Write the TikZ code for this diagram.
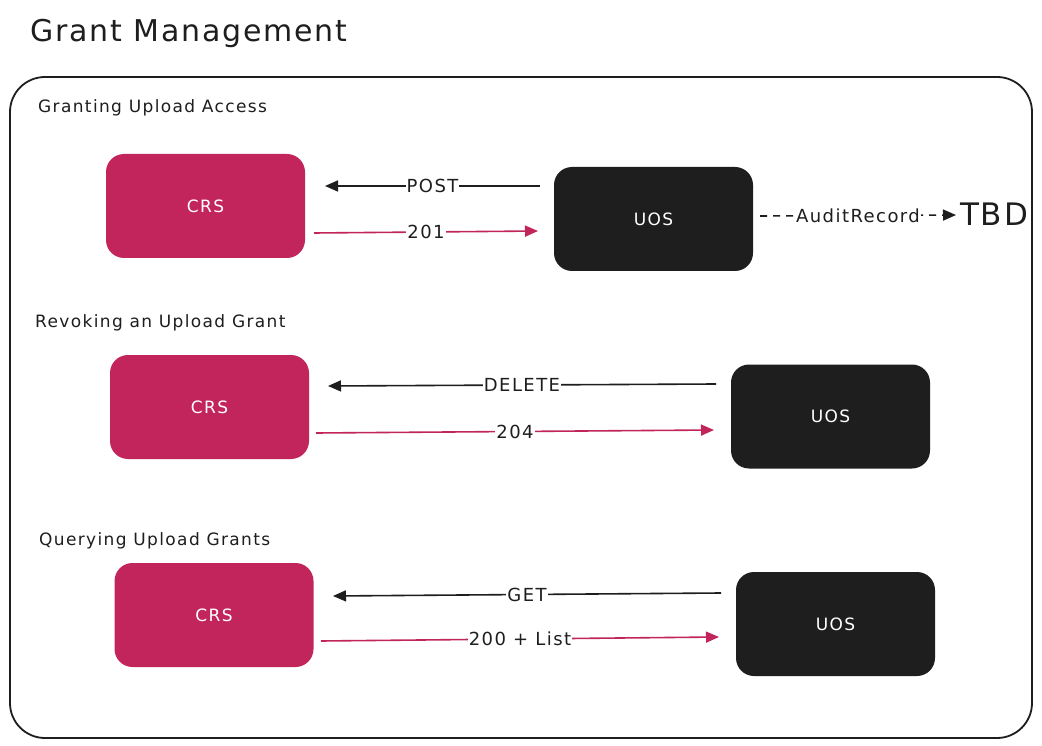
\documentclass[tikz,border=0pt]{standalone}
\usepackage{fontspec}
\setmainfont{DejaVu Sans}
\usetikzlibrary{arrows.meta}
\definecolor{crsred}{HTML}{C2255C}
\definecolor{ink}{HTML}{1E1E1E}
\newfontfamily\sketchfont[LetterSpace=8]{DejaVu Sans}
\newfontfamily\titlefont[LetterSpace=6]{DejaVu Sans}
\begin{document}
\begin{tikzpicture}[x=1pt,y=-1pt,
  box/.style={draw=none, rounded corners=18pt, minimum width=199pt, minimum height=104pt,
    text=white, font=\sketchfont\fontsize{17}{19}\selectfont},
  crs/.style={box, fill=crsred},
  uos/.style={box, fill=ink},
  conn/.style={line width=1.6pt, -{Triangle[length=13pt,width=11pt]}},
  lbl/.style={fill=white, inner sep=1pt, text=ink, font=\sketchfont\fontsize{18}{20}\selectfont},
  sect/.style={anchor=west, inner sep=0pt, text=ink, font=\sketchfont\fontsize{17}{19}\selectfont}]
\useasboundingbox (0,0) rectangle (1042,746);
\fill[white] (0,0) rectangle (1042,746);

\node[anchor=west, inner sep=0pt, text=ink, font=\titlefont\fontsize{30}{32}\selectfont] (title) at (30,33) {Grant Management};
\node[draw=ink, line width=1.8pt, rounded corners=35pt, minimum width=1022pt, minimum height=661pt] (frame) at (521,407.5) {};

% Section 1
\node[sect] (s1) at (38,108) {Granting Upload Access};
\node[crs] (crs1) at (205.5,206) {CRS};
\node[uos] (uos1) at (653.5,219) {UOS};
\coordinate (p1a) at (540,186);
\coordinate (p1b) at (325,186);
\coordinate (r1a) at (314,233);
\coordinate (r1b) at (538,231);
\coordinate (a1a) at (760,216);
\coordinate (a1b) at (956,215);
\node[anchor=west, inner sep=0pt, text=ink, font=\titlefont\fontsize{31}{33}\selectfont] (tbd) at (960,214) {TBD};
\draw[conn, ink] (p1a) -- node[lbl] {POST} (p1b);
\draw[conn, crsred] (r1a) -- node[lbl] {201} (r1b);
\draw[conn, ink, dash pattern=on 7pt off 6pt] (a1a) -- node[lbl] {AuditRecord} (a1b);

% Section 2
\node[sect] (s2) at (35,323) {Revoking an Upload Grant};
\node[crs] (crs2) at (209.5,407) {CRS};
\node[uos] (uos2) at (830.5,416.5) {UOS};
\coordinate (p2a) at (716,384);
\coordinate (p2b) at (328,386);
\coordinate (r2a) at (316,433);
\coordinate (r2b) at (714,430);
\draw[conn, ink] (p2a) -- node[lbl] {DELETE} (p2b);
\draw[conn, crsred] (r2a) -- node[lbl] {204} (r2b);

% Section 3
\node[sect] (s3) at (39,541) {Querying Upload Grants};
\node[crs] (crs3) at (214,615) {CRS};
\node[uos] (uos3) at (835.5,624) {UOS};
\coordinate (p3a) at (721,593);
\coordinate (p3b) at (333,596);
\coordinate (r3a) at (321,641);
\coordinate (r3b) at (719,637);
\draw[conn, ink] (p3a) -- node[lbl] {GET} (p3b);
\draw[conn, crsred] (r3a) -- node[lbl] {200 + List} (r3b);
\end{tikzpicture}
\end{document}
